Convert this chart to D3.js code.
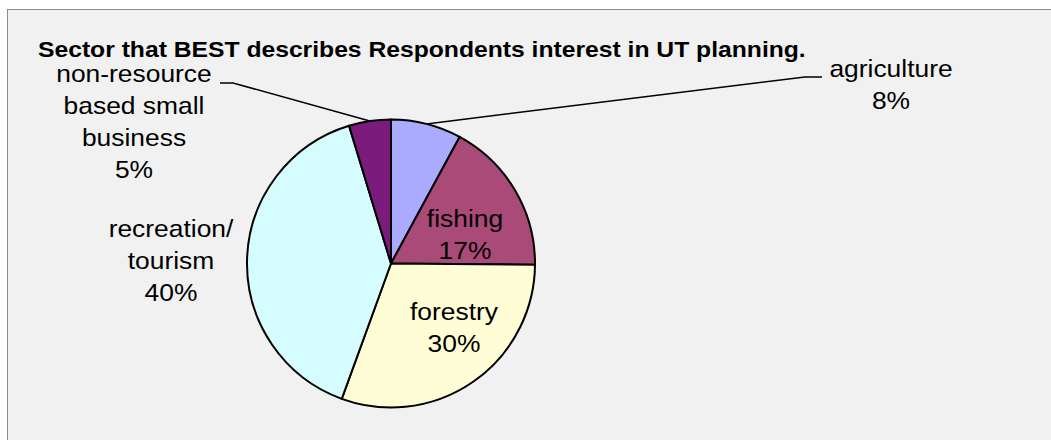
<!DOCTYPE html>
<html>
<head>
<meta charset="utf-8">
<script src="https://cdn.jsdelivr.net/npm/d3@7/dist/d3.min.js"></script>
<style>
  html, body { margin: 0; padding: 0; background: #ffffff; }
  svg { display: block; }
  text { font-family: "Liberation Sans", Arial, sans-serif; fill: #000; }
</style>
</head>
<body>
<svg id="chart" width="1051" height="440"></svg>
<script>
const title = "Sector that BEST describes Respondents interest in UT planning.";
const categories = ["agriculture", "fishing", "forestry", "recreation/ tourism", "non-resource based small business"];
const values = [7.9, 17.2, 30.4, 39.7, 4.7];
const percentLabels = ["8%", "17%", "30%", "40%", "5%"];
const labelLines = [
  ["agriculture"],
  ["fishing"],
  ["forestry"],
  ["recreation/", "tourism"],
  ["non-resource", "based small", "business"]
];
const colors = ["#aaaaff", "#aa4a78", "#fffdd5", "#d5fdff", "#7b1b7b"];

const svg = d3.select("#chart");
const W = 1051, H = 440;
const stretch = 1.1;

// frame
svg.append("rect").attr("x", 7.5).attr("y", 9.5).attr("width", W).attr("height", H)
  .attr("fill", "#f1f1f1").attr("stroke", "#8c8c8c").attr("stroke-width", 1);

svg.append("text").attr("transform", `translate(38,56.5) scale(${stretch},1)`)
  .attr("font-size", 22.45).attr("font-weight", "bold").text(title);

const cx = 391, cy = 263.5, R = 144;
const data = categories.map((c, i) => ({ cat: c, value: values[i], pct: percentLabels[i], lines: labelLines[i], color: colors[i] }));
const pie = d3.pie().value(d => d.value).sort(null);
const arcs = pie(data);
const arc = d3.arc().innerRadius(0).outerRadius(R);
const g = svg.append("g").attr("transform", `translate(${cx},${cy})`);
g.selectAll("path").data(arcs).enter().append("path")
  .attr("d", arc).attr("fill", d => d.data.color)
  .attr("stroke", "#000").attr("stroke-width", 2).attr("stroke-linejoin", "round");

const edge = d3.arc().innerRadius(R).outerRadius(R);

// label layout (label block: center x, first baseline y)
const layout = [
  { x: 891, y: 77, leader: [[822, 77], [805, 77]] },
  { x: 465, y: 227 },
  { x: 454, y: 320 },
  { x: 171, y: 237 },
  { x: 134, y: 82, leader: [[220, 83], [233, 83]] }
];
const lineH = 32;

arcs.forEach((a, i) => {
  const L = layout[i];
  const lines = a.data.lines.concat([a.data.pct]);
  const t = svg.append("text").attr("text-anchor", "middle").attr("font-size", 24)
    .attr("transform", `translate(${L.x},${L.y}) scale(${stretch},1)`);
  lines.forEach((s, k) => {
    t.append("tspan").attr("x", 0).attr("y", k * lineH).text(s);
  });
  if (L.leader) {
    const c = edge.centroid(a);
    const pts = L.leader.concat([[cx + c[0], cy + c[1]]]);
    svg.append("path").attr("d", d3.line()(pts))
      .attr("fill", "none").attr("stroke", "#000").attr("stroke-width", 1.5);
  }
});
</script>
</body>
</html>
